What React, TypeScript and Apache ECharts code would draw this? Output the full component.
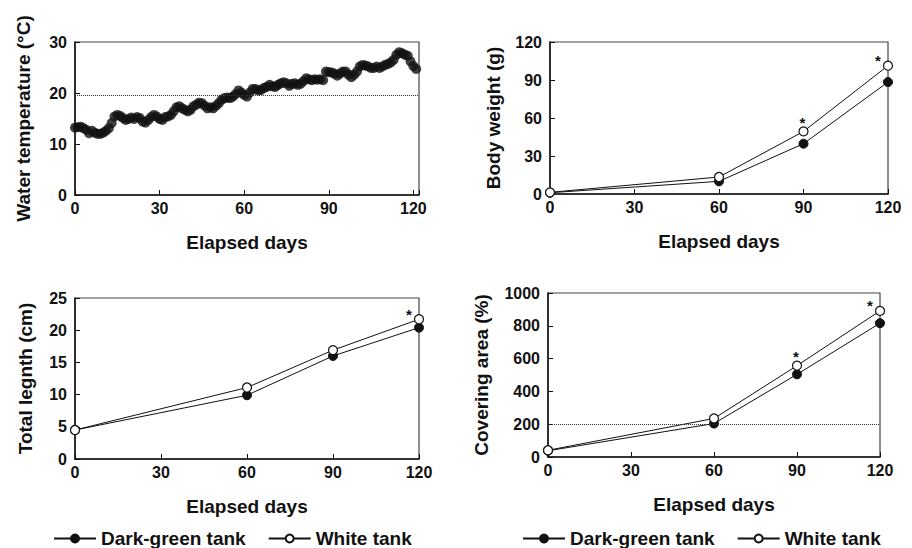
import React, { useEffect, useRef } from "react";
import * as echarts from "echarts";

// ---------- Data ----------
// Daily water temperature (°C), elapsed days 0..121
const waterTemp = [
  13.2, 13.3, 13.4, 13.1, 12.8, 12.1, 12.6, 12.2, 12.0, 12.0,
  12.2, 12.6, 13.1, 14.1, 15.4, 15.7, 15.5, 15.1, 14.7, 14.9,
  15.2, 14.9, 15.3, 15.1, 14.4, 14.2, 14.7, 15.3, 15.7, 15.4,
  14.9, 14.7, 15.3, 15.4, 15.7, 16.4, 17.2, 17.4, 17.0, 16.7,
  16.4, 16.7, 17.4, 17.7, 18.1, 18.0, 17.5, 17.0, 17.2, 17.0,
  17.5, 18.0, 18.7, 19.0, 19.1, 19.0, 19.3, 19.8, 20.5, 20.1,
  19.6, 19.3, 20.1, 20.8, 20.8, 20.5, 20.6, 21.0, 21.2, 21.6,
  21.3, 21.2, 21.6, 21.9, 22.1, 21.9, 21.4, 21.8, 21.9, 21.6,
  21.8, 22.3, 22.9, 22.7, 22.5, 22.7, 22.6, 22.7, 22.5, 24.2,
  24.1, 24.0, 23.8, 23.4, 23.8, 24.2, 24.2, 23.6, 23.1, 23.6,
  24.2, 25.2, 25.5, 25.4, 25.2, 24.9, 24.9, 25.2, 24.9, 25.2,
  25.5, 25.7, 26.0, 26.5, 27.5, 28.0, 27.8, 27.5, 27.3, 26.2,
  25.3, 24.7,
];
const tempThreshold = 19.5;

const sampleDays = [0, 60, 90, 120];
const xTicks = [0, 30, 60, 90, 120];

const weightDark = [1.0, 10.0, 39.7, 88.4];
const weightWhite = [1.3, 13.4, 49.4, 101.3];
const weightSig = [false, false, true, true];

const lengthDark = [4.5, 9.9, 16.0, 20.4];
const lengthWhite = [4.5, 11.1, 16.9, 21.7];
const lengthSig = [false, false, false, true];

const areaDark = [38, 204, 504, 816];
const areaWhite = [41, 235, 557, 891];
const areaSig = [false, false, true, true];
const areaThreshold = 200;

const seriesNames = ["Dark-green tank", "White tank"];

// ---------- Styles ----------
const FONT = '"Liberation Sans", Arial, Helvetica, sans-serif';
const INK = "#111";

const xAxisFor = (gridIndex: number, max: number) => ({
  type: "value",
  gridIndex,
  min: 0,
  max,
  interval: 30,
  name: "Elapsed days",
  nameLocation: "middle",
  nameGap: 38,
  nameTextStyle: { fontFamily: FONT, fontSize: 19, fontWeight: "bold", color: INK },
  axisLine: { show: true, lineStyle: { color: INK, width: 1.5 } },
  axisTick: { show: true, inside: true, length: 5, lineStyle: { color: INK, width: 1 } },
  axisLabel: {
    fontFamily: FONT,
    fontSize: 16,
    fontWeight: "bold",
    color: INK,
    margin: 5,
    formatter: (v: number) => (xTicks.includes(v) ? String(v) : ""),
  },
  splitLine: { show: false },
});

const yAxisFor = (gridIndex: number, name: string, max: number, interval: number, nameGap: number) => ({
  type: "value",
  gridIndex,
  min: 0,
  max,
  interval,
  name,
  nameLocation: "middle",
  nameGap,
  nameTextStyle: { fontFamily: FONT, fontSize: 19, fontWeight: "bold", color: INK },
  axisLine: { show: true, lineStyle: { color: INK, width: 1.5 } },
  axisTick: { show: true, inside: true, length: 5, lineStyle: { color: INK, width: 1 } },
  axisLabel: {
    fontFamily: FONT,
    fontSize: 16,
    fontWeight: "bold",
    color: INK,
    margin: 8,
    formatter: (v: number) => String(v),
  },
  splitLine: { show: false },
});

const starLabel = (day: number) => ({
  show: true,
  formatter: "*",
  position: "inside",
  offset: day === 120 ? [-10, -5] : [-1, -9],
  fontFamily: FONT,
  fontSize: 15,
  fontWeight: "bold",
  color: INK,
});

const pairSeries = (
  idx: number,
  dark: number[],
  white: number[],
  sig: boolean[]
) => [
  {
    name: seriesNames[0],
    type: "line",
    xAxisIndex: idx,
    yAxisIndex: idx,
    symbol: "circle",
    symbolSize: 9,
    lineStyle: { color: INK, width: 1 },
    itemStyle: { color: INK, borderColor: INK, borderWidth: 1 },
    data: sampleDays.map((d, i) => [d, dark[i]]),
    z: 3,
  },
  {
    name: seriesNames[1],
    type: "line",
    xAxisIndex: idx,
    yAxisIndex: idx,
    symbol: "circle",
    symbolSize: 9,
    lineStyle: { color: INK, width: 1 },
    itemStyle: { color: "#fff", borderColor: INK, borderWidth: 1.2 },
    data: sampleDays.map((d, i) =>
      sig[i] ? { value: [d, white[i]], label: starLabel(d) } : { value: [d, white[i]] }
    ),
    z: 4,
  },
];

const dottedLine = (value: number) => ({
  silent: true,
  symbol: ["none", "none"],
  label: { show: false },
  lineStyle: { type: "dotted", color: "#333", width: 1 },
  data: [{ yAxis: value }],
});

const legendFor = (left: number) => ({
  left,
  top: 524,
  orient: "horizontal",
  data: seriesNames,
  itemWidth: 42,
  itemHeight: 10,
  itemGap: 22,
  selectedMode: false,
  textStyle: { fontFamily: FONT, fontSize: 19, fontWeight: "bold", color: INK },
});

const option = {
  animation: false,
  backgroundColor: "#fff",
  grid: [
    { left: 75, top: 42, width: 344, height: 153 },
    { left: 550, top: 42, width: 338, height: 152 },
    { left: 75, top: 298, width: 344, height: 161 },
    { left: 548, top: 293, width: 332, height: 164 },
  ].map((g) => ({ ...g, show: true, borderColor: "#444", borderWidth: 1.2, backgroundColor: "transparent" })),
  xAxis: [xAxisFor(0, 122), xAxisFor(1, 120), xAxisFor(2, 120), xAxisFor(3, 120)],
  yAxis: [
    yAxisFor(0, "Water temperature (°C)", 30, 10, 42),
    yAxisFor(1, "Body weight (g)", 120, 30, 47),
    yAxisFor(2, "Total legnth (cm)", 25, 5, 40),
    yAxisFor(3, "Covering area (%)", 1000, 200, 57),
  ],
  legend: [legendFor(48), legendFor(517)],
  series: [
    {
      name: "Water temperature",
      type: "scatter",
      xAxisIndex: 0,
      yAxisIndex: 0,
      symbol: "circle",
      symbolSize: 10,
      itemStyle: { color: INK },
      data: waterTemp.map((t, i) => [i, t]),
      markLine: dottedLine(tempThreshold),
    },
    ...pairSeries(1, weightDark, weightWhite, weightSig),
    ...pairSeries(2, lengthDark, lengthWhite, lengthSig),
    ...pairSeries(3, areaDark, areaWhite, areaSig).map((s, i) =>
      i === 0 ? { ...s, markLine: dottedLine(areaThreshold) } : s
    ),
  ],
};

export default function App() {
  const ref = useRef<HTMLDivElement>(null);
  useEffect(() => {
    document.body.style.margin = "0";
    const chart = echarts.init(ref.current as HTMLDivElement, null, { renderer: "svg" });
    chart.setOption(option as any);
    return () => chart.dispose();
  }, []);
  return <div ref={ref} style={{ width: 912, height: 548 }} />;
}
